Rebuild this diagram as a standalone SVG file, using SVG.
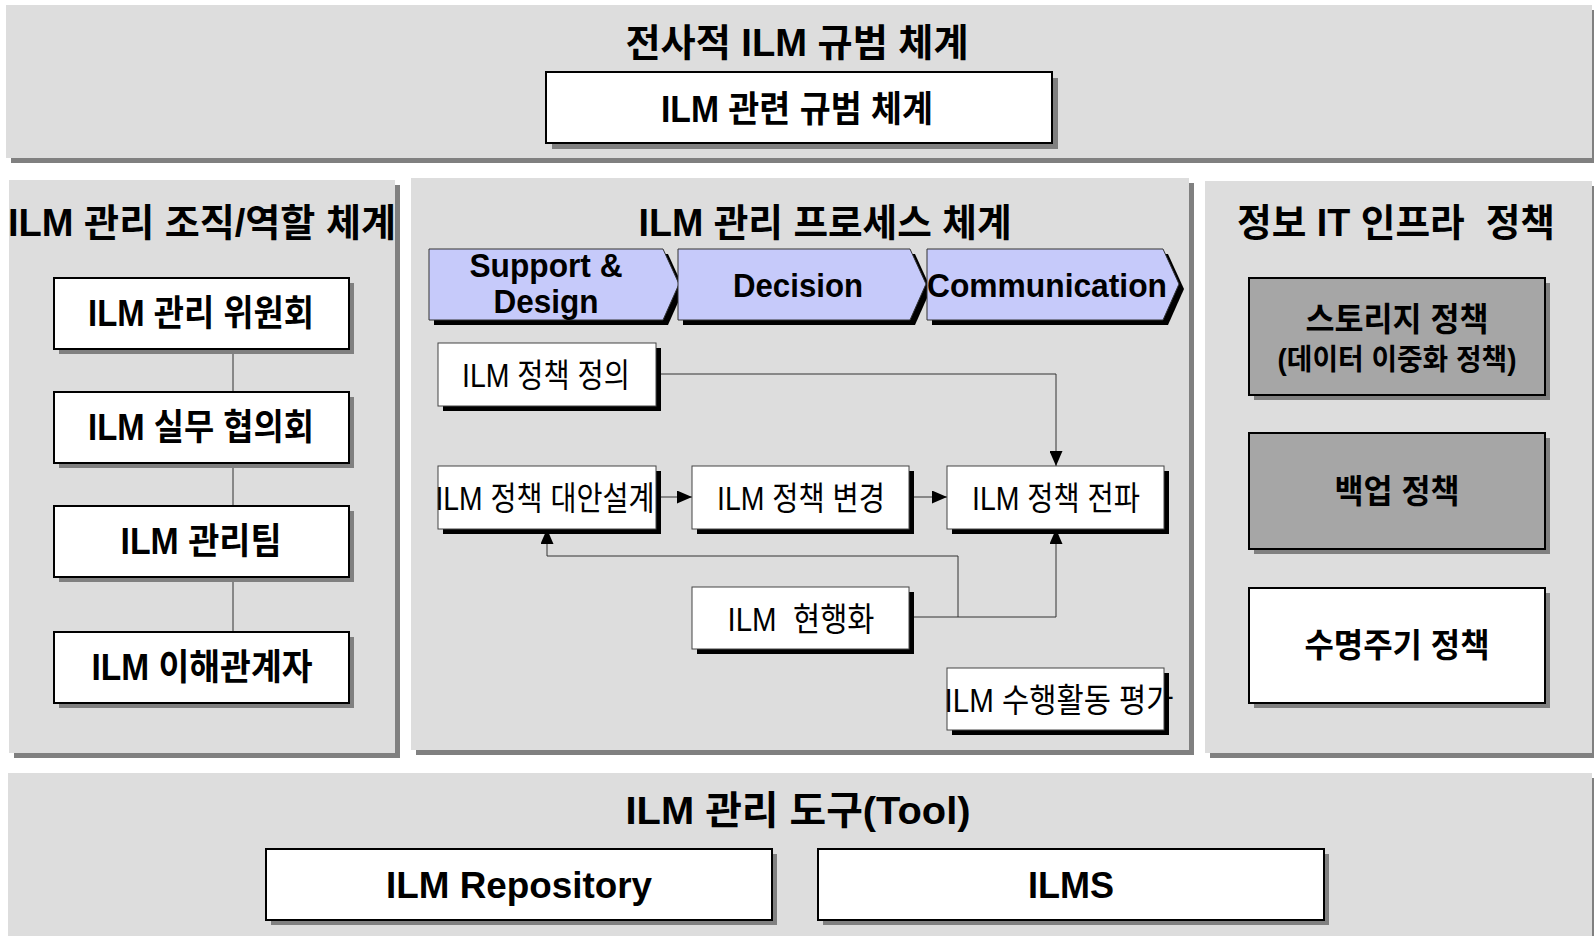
<svg xmlns="http://www.w3.org/2000/svg" width="1594" height="936" viewBox="0 0 1594 936">
  <style>
    .panel { fill: #DDDDDD; }
    .pshadow { fill: #808080; }
    .box { fill: #FFFFFF; stroke: #000000; stroke-width: 2; }
    .gbox { fill: #A6A6A6; stroke: #000000; stroke-width: 2; }
    .bshadow { fill: #808080; }
    .pbox { fill: #FFFFFF; stroke: #444444; stroke-width: 1; }
    .kshadow { fill: #000000; }
    .chev { fill: #C6CAFA; stroke: #333333; stroke-width: 1; }
    .t { font-family: "Liberation Sans", "Noto Sans CJK KR", sans-serif; fill: #000000; text-anchor: middle; }
    .title { font-size: 38px; font-weight: bold; }
    .bt { font-size: 36px; font-weight: bold; }
    .rt { font-size: 33px; font-weight: bold; }
    .ct { font-size: 33px; font-weight: bold; }
    .pt { font-size: 33px; font-weight: normal; }
    .pre { white-space: pre; }
    .link { fill: none; stroke: #333333; stroke-width: 1; }
  </style>
  <defs>
    <marker id="arr" markerWidth="15" markerHeight="13" refX="15" refY="6.5" orient="auto" markerUnits="userSpaceOnUse">
      <path d="M0,0 L15,6.5 L0,13 z" fill="#000000"/>
    </marker>
  </defs>

  <!-- Top band: enterprise ILM norms -->
  <g id="norms">
    <rect class="pshadow" x="11" y="10" width="1583" height="153"/>
    <rect class="panel" x="6" y="5" width="1586" height="153"/>
    <text class="t title" x="797" y="56" textLength="343" lengthAdjust="spacingAndGlyphs">전사적 ILM 규범 체계</text>
    <g id="norm-box">
      <rect class="bshadow" x="552" y="78" width="506" height="71"/>
      <rect class="box" x="546" y="72" width="506" height="71"/>
      <text class="t bt" x="797" y="122" textLength="272" lengthAdjust="spacingAndGlyphs">ILM 관련 규범 체계</text>
    </g>
  </g>

  <!-- Left panel: organisation / roles -->
  <g id="org">
    <rect class="pshadow" x="14" y="185" width="386" height="573"/>
    <rect class="panel" x="9" y="180" width="386" height="573"/>
    <text class="t title" x="202" y="236" textLength="388" lengthAdjust="spacingAndGlyphs">ILM 관리 조직/역할 체계</text>
  </g>

  <!-- Middle panel: management process -->
  <g id="process">
    <rect class="pshadow" x="416" y="183" width="778" height="572"/>
    <rect class="panel" x="411" y="178" width="778" height="572"/>
    <text class="t title" x="825" y="236" textLength="373" lengthAdjust="spacingAndGlyphs">ILM 관리 프로세스 체계</text>
  </g>

  <!-- Right panel: IT infrastructure policy -->
  <g id="infra">
    <rect class="pshadow" x="1210" y="186" width="384" height="572"/>
    <rect class="panel" x="1205" y="181" width="387" height="572"/>
    <text class="t title pre" x="1396" y="236" textLength="318" lengthAdjust="spacingAndGlyphs">정보 IT 인프라  정책</text>
  </g>

  <!-- Bottom band: tools -->
  <g id="tools">
    <rect class="pshadow" x="13" y="778" width="1581" height="158"/>
    <rect class="panel" x="8" y="773" width="1584" height="163"/>
    <text class="t title" style="font-size:39px" x="798" y="824" textLength="345" lengthAdjust="spacingAndGlyphs">ILM 관리 도구(Tool)</text>
  </g>

  <!-- Connectors -->
  <g id="connectors">
    <path class="link" d="M233,349 V392"/>
    <path class="link" d="M233,463 V506"/>
    <path class="link" d="M233,577 V632"/>
    <path class="link" d="M656,374 H1056 V466" marker-end="url(#arr)"/>
    <path class="link" d="M656,497 H692" marker-end="url(#arr)"/>
    <path class="link" d="M909,497 H947" marker-end="url(#arr)"/>
    <path class="link" d="M909,617 H1056 V529" marker-end="url(#arr)"/>
    <path class="link" d="M958,617 V556 H547 V529" marker-end="url(#arr)"/>
  </g>

  <!-- Organisation nodes -->
  <g id="committee">
    <rect class="bshadow" x="59" y="283" width="295" height="71"/>
    <rect class="box" x="54" y="278" width="295" height="71"/>
    <text class="t bt" x="201" y="326" textLength="226" lengthAdjust="spacingAndGlyphs">ILM 관리 위원회</text>
  </g>
  <g id="council">
    <rect class="bshadow" x="59" y="397" width="295" height="71"/>
    <rect class="box" x="54" y="392" width="295" height="71"/>
    <text class="t bt" x="201" y="440" textLength="226" lengthAdjust="spacingAndGlyphs">ILM 실무 협의회</text>
  </g>
  <g id="team">
    <rect class="bshadow" x="59" y="511" width="295" height="71"/>
    <rect class="box" x="54" y="506" width="295" height="71"/>
    <text class="t bt" x="201" y="554" textLength="161" lengthAdjust="spacingAndGlyphs">ILM 관리팀</text>
  </g>
  <g id="stakeholders">
    <rect class="bshadow" x="59" y="637" width="295" height="71"/>
    <rect class="box" x="54" y="632" width="295" height="71"/>
    <text class="t bt" x="202" y="680" textLength="221" lengthAdjust="spacingAndGlyphs">ILM 이해관계자</text>
  </g>

  <!-- Process phase chevrons -->
  <g id="phase-design">
    <path class="kshadow" d="M434,254 H668 L684,289 L668,325 H434 Z"/>
    <path class="chev" d="M429,249 H663 L679,284 L663,320 H429 Z"/>
    <text class="t ct" x="546" y="277" textLength="153" lengthAdjust="spacingAndGlyphs">Support &amp;</text>
    <text class="t ct" x="546" y="313" textLength="105" lengthAdjust="spacingAndGlyphs">Design</text>
  </g>
  <g id="phase-decision">
    <path class="kshadow" d="M683,254 H915 L931,289 L915,325 H683 Z"/>
    <path class="chev" d="M678,249 H910 L926,284 L910,320 H678 Z"/>
    <text class="t ct" x="798" y="297" textLength="130" lengthAdjust="spacingAndGlyphs">Decision</text>
  </g>
  <g id="phase-communication">
    <path class="kshadow" d="M932,254 H1168 L1184,289 L1168,325 H932 Z"/>
    <path class="chev" d="M927,249 H1163 L1179,284 L1163,320 H927 Z"/>
    <text class="t ct" x="1047" y="297" textLength="240" lengthAdjust="spacingAndGlyphs">Communication</text>
  </g>

  <!-- Process steps -->
  <g id="policy-define">
    <rect class="kshadow" x="443" y="348" width="218" height="63"/>
    <rect class="pbox" x="438" y="343" width="218" height="63"/>
    <text class="t pt" x="546" y="387" textLength="168" lengthAdjust="spacingAndGlyphs">ILM 정책 정의</text>
  </g>
  <g id="policy-alternative">
    <rect class="kshadow" x="443" y="471" width="218" height="63"/>
    <rect class="pbox" x="438" y="466" width="218" height="63"/>
    <text class="t pt" x="545" y="510" textLength="219" lengthAdjust="spacingAndGlyphs">ILM 정책 대안설계</text>
  </g>
  <g id="policy-change">
    <rect class="kshadow" x="697" y="471" width="217" height="63"/>
    <rect class="pbox" x="692" y="466" width="217" height="63"/>
    <text class="t pt" x="801" y="510" textLength="168" lengthAdjust="spacingAndGlyphs">ILM 정책 변경</text>
  </g>
  <g id="policy-spread">
    <rect class="kshadow" x="952" y="471" width="217" height="63"/>
    <rect class="pbox" x="947" y="466" width="217" height="63"/>
    <text class="t pt" x="1056" y="510" textLength="168" lengthAdjust="spacingAndGlyphs">ILM 정책 전파</text>
  </g>
  <g id="policy-update">
    <rect class="kshadow" x="697" y="592" width="217" height="62"/>
    <rect class="pbox" x="692" y="587" width="217" height="62"/>
    <text class="t pt pre" x="801" y="631" textLength="147" lengthAdjust="spacingAndGlyphs">ILM  현행화</text>
  </g>
  <g id="activity-review">
    <rect class="kshadow" x="952" y="673" width="217" height="62"/>
    <rect class="pbox" x="947" y="668" width="217" height="62"/>
    <text class="t pt" x="1059" y="712" textLength="229" lengthAdjust="spacingAndGlyphs">ILM 수행활동 평가</text>
  </g>

  <!-- Infrastructure policies -->
  <g id="storage-policy">
    <rect class="bshadow" x="1254" y="283" width="296" height="117"/>
    <rect class="gbox" x="1249" y="278" width="296" height="117"/>
    <text class="t rt" x="1397" y="331" textLength="183" lengthAdjust="spacingAndGlyphs">스토리지 정책</text>
    <text class="t rt" style="font-size:29px" x="1397" y="370" textLength="239" lengthAdjust="spacingAndGlyphs">(데이터 이중화 정책)</text>
  </g>
  <g id="backup-policy">
    <rect class="bshadow" x="1254" y="438" width="296" height="116"/>
    <rect class="gbox" x="1249" y="433" width="296" height="116"/>
    <text class="t rt" x="1397" y="503" textLength="125" lengthAdjust="spacingAndGlyphs">백업 정책</text>
  </g>
  <g id="lifecycle-policy">
    <rect class="bshadow" x="1254" y="593" width="296" height="115"/>
    <rect class="box" x="1249" y="588" width="296" height="115"/>
    <text class="t rt" x="1397" y="657" textLength="185" lengthAdjust="spacingAndGlyphs">수명주기 정책</text>
  </g>

  <!-- Tools -->
  <g id="repository">
    <rect class="bshadow" x="271" y="854" width="506" height="71"/>
    <rect class="box" x="266" y="849" width="506" height="71"/>
    <text class="t bt" x="519" y="898" textLength="266" lengthAdjust="spacingAndGlyphs">ILM Repository</text>
  </g>
  <g id="ilms">
    <rect class="bshadow" x="823" y="854" width="506" height="71"/>
    <rect class="box" x="818" y="849" width="506" height="71"/>
    <text class="t bt" x="1071" y="898">ILMS</text>
  </g>
</svg>
